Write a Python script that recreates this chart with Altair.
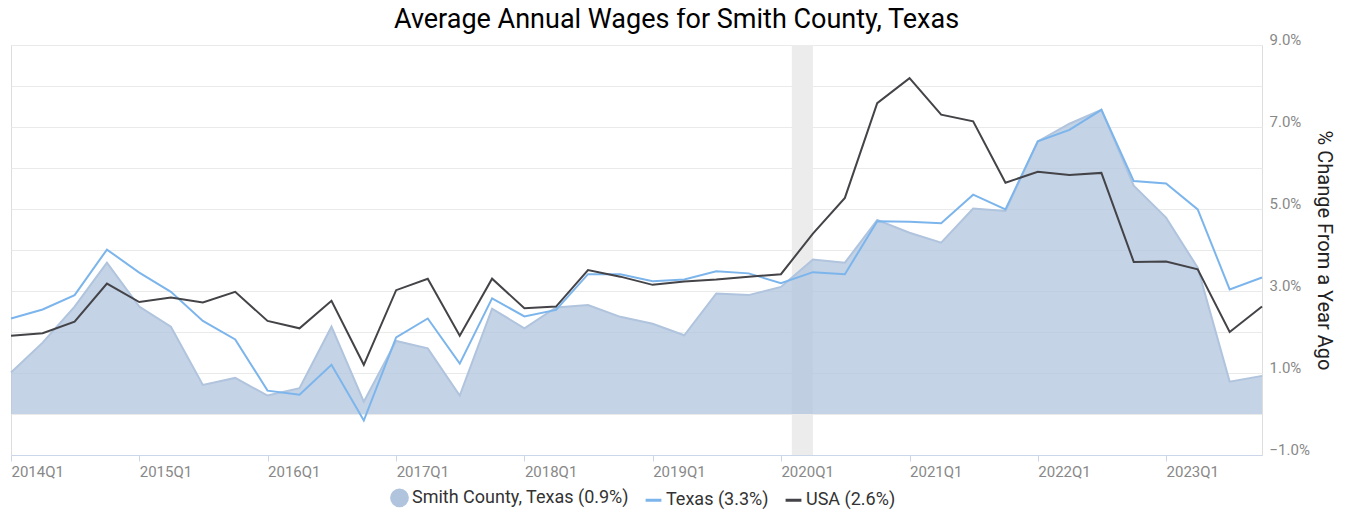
import altair as alt
import pandas as pd

quarters = [f"{y}-{m:02d}-01" for y in range(2014, 2024) for m in (1, 4, 7, 10)]
smith = [1.01, 1.74, 2.62, 3.69, 2.62, 2.13, 0.71, 0.88, 0.45, 0.63,
         2.13, 0.30, 1.78, 1.60, 0.45, 2.57, 2.09, 2.60, 2.66, 2.37,
         2.20, 1.92, 2.94, 2.90, 3.10, 3.77, 3.69, 4.73, 4.42, 4.18,
         5.01, 4.95, 6.65, 7.08, 7.42, 5.57, 4.79, 3.57, 0.79, 0.93]
texas = [2.33, 2.55, 2.90, 4.01, 3.45, 2.98, 2.27, 1.82, 0.57, 0.47,
         1.20, -0.16, 1.87, 2.33, 1.23, 2.82, 2.38, 2.54, 3.41, 3.41,
         3.24, 3.28, 3.48, 3.43, 3.19, 3.46, 3.41, 4.70, 4.69, 4.65,
         5.35, 4.99, 6.65, 6.93, 7.42, 5.68, 5.62, 4.99, 3.04, 3.33]
usa = [1.91, 1.97, 2.25, 3.18, 2.73, 2.84, 2.72, 2.98, 2.27, 2.09,
       2.76, 1.20, 3.02, 3.30, 1.91, 3.30, 2.58, 2.62, 3.51, 3.35,
       3.15, 3.23, 3.28, 3.35, 3.41, 4.40, 5.27, 7.58, 8.19, 7.30,
       7.14, 5.64, 5.91, 5.83, 5.88, 3.71, 3.72, 3.53, 2.00, 2.62]
series_names = ["Smith County, Texas (0.9%)", "Texas (3.3%)", "USA (2.6%)"]
series_colors = ["#b0c4de", "#7cb5ec", "#434348"]
recession_start = ["2020-02-01"]
recession_end = ["2020-04-01"]
tick_years = list(range(2014, 2024))

rows = []
for name, vals in zip(series_names, [smith, texas, usa]):
    for d, v in zip(quarters, vals):
        rows.append({"date": d, "value": v, "series": name})
df = pd.DataFrame(rows)
rec = pd.DataFrame({"start": recession_start, "end": recession_end})

W, H = 1251, 410

x_axis = alt.Axis(
    values=[alt.DateTime(year=y, month=1, date=1, utc=True) for y in tick_years],
    labelExpr="utcFormat(datum.value, '%Y') + 'Q1'",
    labelAlign="left", labelColor="#888888", labelFontSize=15, labelFont="Roboto",
    labelPadding=3, grid=False, domainColor="#ccd6eb", tickColor="#ccd6eb",
    tickSize=6, title=None,
)
y_axis = alt.Axis(
    orient="right", values=list(range(-1, 10)),
    labelExpr="datum.value % 2 != 0 ? format(datum.value, '.1f') + '%' : ''",
    grid=True, gridColor="#eaeaea", domain=False, ticks=False,
    labelColor="#888888", labelFontSize=15, labelFont="Roboto", labelPadding=7,
    labelBaseline="middle", labelOffset=-6,
    title="% Change From a Year Ago", titleFontSize=20, titleFont="Roboto",
    titleFontWeight="normal", titleColor="#222222", titlePadding=4,
)
xs = alt.Scale(nice=False)
ys = alt.Scale(domain=[-1, 9], nice=False)

recession = alt.Chart(rec).mark_rect(color="#ececec").encode(
    x=alt.X("start:T", scale=xs, axis=x_axis), x2="end:T"
)
area = alt.Chart(df).transform_filter(
    alt.datum.series == series_names[0]
).mark_area(
    color=series_colors[0], fillOpacity=0.75,
    line={"color": series_colors[0], "strokeWidth": 2},
).encode(
    x=alt.X("date:T", scale=xs, axis=x_axis),
    y=alt.Y("value:Q", scale=ys, axis=y_axis, stack=None),
)
tx = alt.Chart(df).transform_filter(
    alt.datum.series == series_names[1]
).mark_line(color=series_colors[1], strokeWidth=2).encode(
    x="date:T", y="value:Q"
)
us = alt.Chart(df).transform_filter(
    alt.datum.series == series_names[2]
).mark_line(color=series_colors[2], strokeWidth=2).encode(
    x="date:T", y="value:Q"
)
legend_layer = alt.Chart(df).mark_point(
    filled=False, fill=series_colors[0], opacity=0, size=0
).encode(
    x="date:T", y="value:Q",
    color=alt.Color("series:N", scale=alt.Scale(domain=series_names, range=series_colors),
                    legend=alt.Legend(
                        title=None, orient="none", legendX=379, legendY=443,
                        direction="horizontal", labelFontSize=18, labelFont="Roboto",
                        labelColor="#333333", symbolSize=250, symbolStrokeWidth=3,
                        symbolOpacity=1, columnPadding=10, labelOffset=3,
                        labelLimit=400,
                    )),
    shape=alt.Shape("series:N", scale=alt.Scale(domain=series_names,
                                                range=["circle", "stroke", "stroke"])),
)

chart = alt.layer(recession, area, tx, us, legend_layer).properties(
    width=W, height=H,
    title=alt.TitleParams(
        "Average Annual Wages for Smith County, Texas", fontSize=27, font="Roboto",
        fontWeight="normal", color="#000000", anchor="middle", offset=-4, dx=40, dy=-2,
    ),
    padding={"left": -1, "top": -2, "right": 0, "bottom": 0},
).configure_view(stroke=None).configure(background="white")

chart.save("out.html", embed_options={"renderer": "svg", "actions": False})
